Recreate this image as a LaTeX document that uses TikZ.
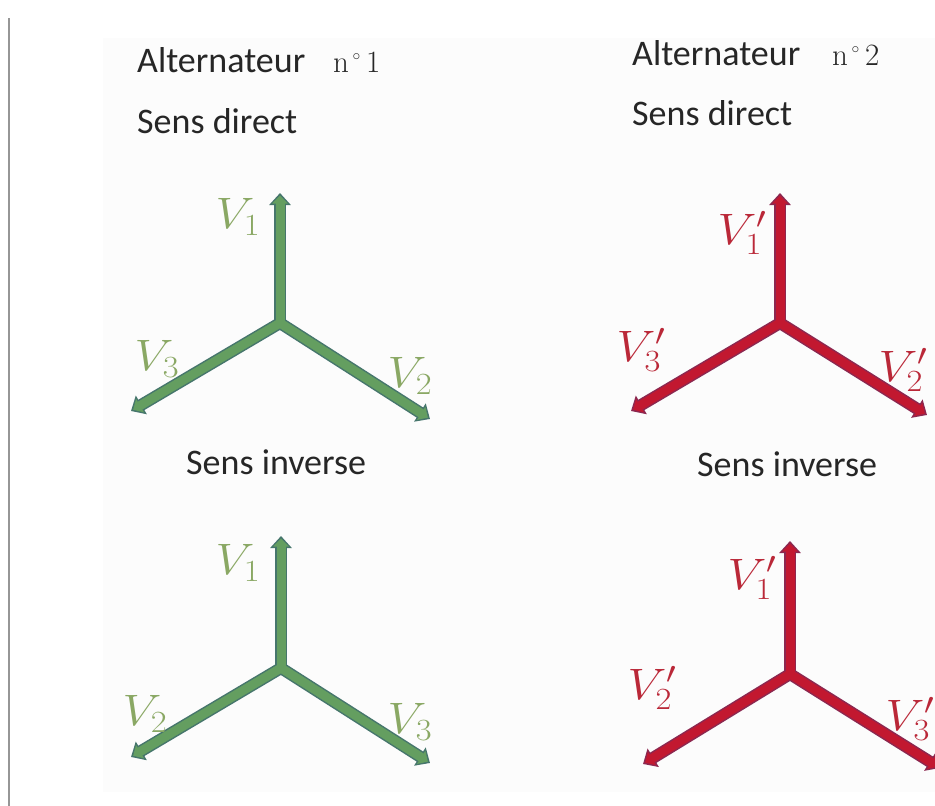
\RequirePackage{fix-cm}
\documentclass[tikz,border=0pt]{standalone}
\usepackage[no-math]{fontspec}
\setmainfont{Carlito}
\usetikzlibrary{arrows.meta}
\definecolor{gfill}{RGB}{100,158,96}
\definecolor{gout}{RGB}{70,118,108}
\definecolor{glab}{RGB}{138,168,100}
\definecolor{rfill}{RGB}{194,24,48}
\definecolor{rout}{RGB}{140,40,80}
\definecolor{rlab}{RGB}{186,40,56}
\definecolor{frame}{RGB}{150,150,150}
\newcommand{\mylbl}[1]{\scalebox{1.12}[1]{$#1$}}
\tikzset{
  txt/.style={anchor=base west, inner sep=0pt, font=\fontsize{36}{36}\selectfont, text=black!85},
  numtxt/.style={anchor=base west, inner sep=0pt, font=\fontsize{31}{31}\selectfont, text=black!85},
  glabel/.style={inner sep=0pt, text=glab, font=\fontsize{44}{44}\selectfont},
  rlabel/.style={inner sep=0pt, text=rlab, font=\fontsize{44}{44}\selectfont},
  gouter/.style={line width=12pt, draw=gout, -{Triangle[width=21pt,length=12pt]}},
  ginner/.style={line width=9pt, draw=gfill, shorten >=2.5pt, -{Triangle[width=15pt,length=8pt]}},
  router/.style={line width=12pt, draw=rout, -{Triangle[width=21pt,length=12pt]}},
  rinner/.style={line width=9pt, draw=rfill, shorten >=2.5pt, -{Triangle[width=15pt,length=8pt]}},
}
\begin{document}
\begin{tikzpicture}[x=1pt,y=1pt]
\useasboundingbox (0,0) rectangle (935,-806);
\fill[black!1] (103,-38) rectangle (935,-792);
\draw[frame, line width=1.5pt] (9,-18) -- (9,-806);

% titles
\node[txt] (t1) at (137,-72) {Alternateur};
\node[numtxt] (n1) at (333,-72) {$\mathrm{n}^{\,\scriptscriptstyle\circ}\,\mathrm{1}$};
\node[txt] (d1) at (137,-133) {Sens direct};
\node[txt] (i1) at (186,-474) {Sens inverse};
\node[txt] (t2) at (632,-65) {Alternateur};
\node[numtxt] (n2) at (832,-65) {$\mathrm{n}^{\,\scriptscriptstyle\circ}\,\mathrm{2}$};
\node[txt] (d2) at (632,-125) {Sens direct};
\node[txt] (i2) at (697,-476) {Sens inverse};

% top left (direct, alternator 1)
\coordinate (ca) at (280,-323);
\coordinate (ca1) at (280,-193);
\coordinate (ca2) at (430,-419);
\coordinate (ca3) at (131,-411);
\foreach \e in {ca1,ca2,ca3} \draw[gouter] (ca) -- (\e);
\foreach \e in {ca1,ca2,ca3} \draw[ginner] (ca) -- (\e);
\node[glabel] (la1) at (238,-217) {\mylbl{V_1}};
\node[glabel] (la3) at (157,-359) {\mylbl{V_3}};
\node[glabel] (la2) at (410,-376) {\mylbl{V_2}};

% bottom left (inverse, alternator 1)
\coordinate (cb) at (281,-668);
\coordinate (cb1) at (281,-536);
\coordinate (cb2) at (131,-757);
\coordinate (cb3) at (430,-763);
\foreach \e in {cb1,cb2,cb3} \draw[gouter] (cb) -- (\e);
\foreach \e in {cb1,cb2,cb3} \draw[ginner] (cb) -- (\e);
\node[glabel] (lb1) at (238,-563) {\mylbl{V_1}};
\node[glabel] (lb2) at (145,-714) {\mylbl{V_2}};
\node[glabel] (lb3) at (410,-722) {\mylbl{V_3}};

% top right (direct, alternator 2)
\coordinate (cc) at (780,-323);
\coordinate (cc1) at (780,-193);
\coordinate (cc2) at (927,-415);
\coordinate (cc3) at (631,-411);
\foreach \e in {cc1,cc2,cc3} \draw[router] (cc) -- (\e);
\foreach \e in {cc1,cc2,cc3} \draw[rinner] (cc) -- (\e);
\node[rlabel] (lc1) at (742,-233) {\mylbl{V_1'}};
\node[rlabel] (lc3) at (641,-350) {\mylbl{V_3'}};
\node[rlabel] (lc2) at (903,-370) {\mylbl{V_2'}};

% bottom right (inverse, alternator 2)
\coordinate (cd) at (790,-674);
\coordinate (cd1) at (790,-541);
\coordinate (cd2) at (643,-764);
\coordinate (cd3) at (940,-768);
\foreach \e in {cd1,cd2,cd3} \draw[router] (cd) -- (\e);
\foreach \e in {cd1,cd2,cd3} \draw[rinner] (cd) -- (\e);
\node[rlabel] (ld1) at (752,-578) {\mylbl{V_1'}};
\node[rlabel] (ld2) at (652,-688) {\mylbl{V_2'}};
\node[rlabel] (ld3) at (910,-719) {\mylbl{V_3'}};
\end{tikzpicture}
\end{document}
